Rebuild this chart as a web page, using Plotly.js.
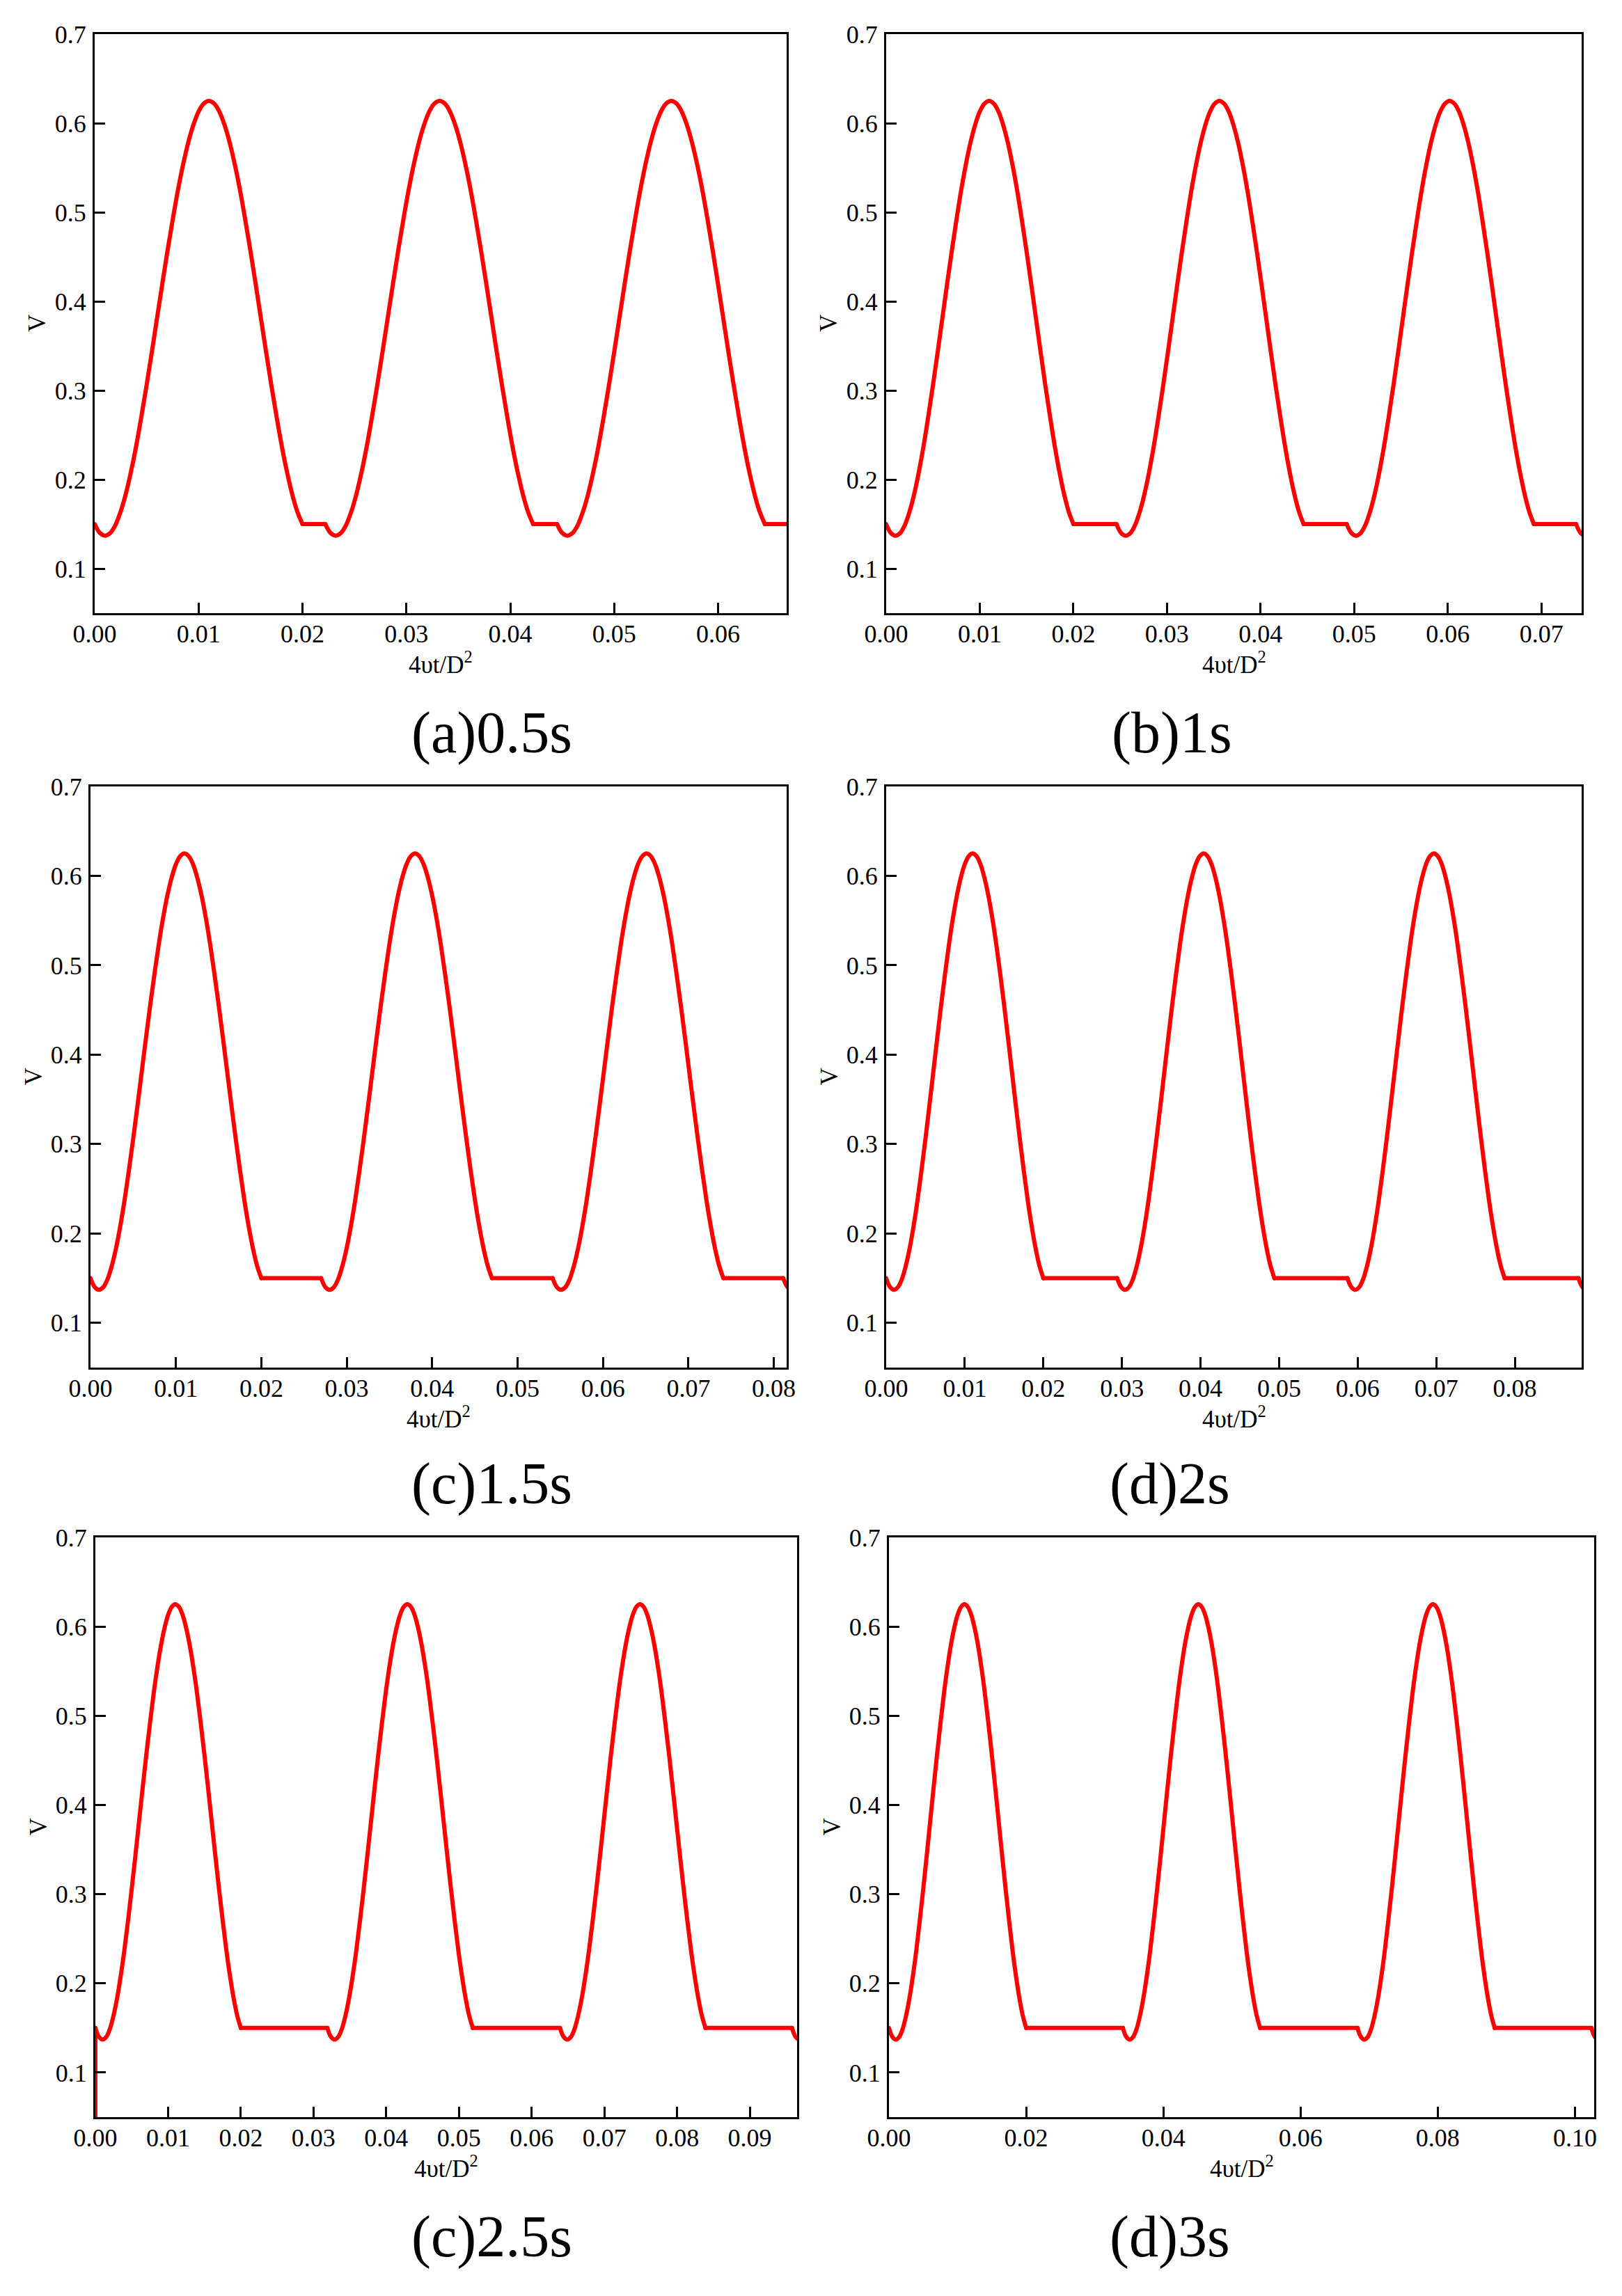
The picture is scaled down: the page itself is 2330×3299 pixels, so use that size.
<!DOCTYPE html>
<html>
<head>
<meta charset="utf-8">
<script src="https://cdn.plot.ly/plotly-3.0.1.min.js"></script>
<style>
html,body{margin:0;padding:0;background:#ffffff;}
.scatterlayer path.js-line{stroke-linecap:round;stroke-linejoin:round;}
</style>
</head>
<body>
<div id="chart" style="width:2330px;height:3299px;"></div>
<script>
// ---- data ----
// shape of one pulse (offset from the start of a cycle, V)
const pulseOffset = [0.0000,0.0005,0.0010,0.0015,0.0020,0.0025,0.0030,0.0035,0.0040,0.0045,
                     0.0050,0.0055,0.0060,0.0065,0.0070,0.0075,0.0080,0.0085,0.0090,0.0095,
                     0.0100,0.0105,0.0110,0.0115,0.0120,0.0125,0.0130,0.0135,0.0140,0.0145,
                     0.0150,0.0155,0.0160,0.0165,0.0170,0.0175,0.0180,0.0185,0.0190,0.0195,0.0200];
const pulseV = [0.150,0.140,0.137,0.140,0.149,0.164,0.184,0.209,0.238,0.271,
                0.306,0.343,0.381,0.419,0.456,0.491,0.524,0.553,0.578,0.598,
                0.613,0.622,0.625,0.622,0.613,0.598,0.578,0.553,0.524,0.491,
                0.456,0.419,0.381,0.343,0.306,0.271,0.238,0.209,0.184,0.164,0.150];
// level of the flat part between two pulses
const plateauV = 0.150;
// start of each cycle in every panel
const cycleStartsA = [0, 0.0222, 0.0445, 0.0667];
const cycleStartsB = [0, 0.0246, 0.0492, 0.0737];
const cycleStartsC = [0, 0.0270, 0.0541, 0.0811];
const cycleStartsD = [0, 0.0294, 0.0587, 0.0881];
const cycleStartsE = [0, 0.0319, 0.0639, 0.0958];
const cycleStartsF = [0, 0.0341, 0.0683, 0.1024];
// panel (c)2.5s starts with a drop from below the axis at x = 0
const leadInX_E = [0, 0];
const leadInV_E = [0.0, 0.150];
// x axis ends and tick steps
const xMax = [0.0666, 0.0743, 0.0815, 0.0885, 0.0965, 0.1028];
const xTickStep = [0.01, 0.01, 0.01, 0.01, 0.01, 0.02];
const yTickVals = [0.1, 0.2, 0.3, 0.4, 0.5, 0.6, 0.7];
const yTickText = ['0.1', '0.2', '0.3', '0.4', '0.5', '0.6', '0.7'];
const panelLabels = ['(a)0.5s', '(b)1s', '(c)1.5s', '(d)2s', '(c)2.5s', '(d)3s'];
const xTitle = '4\u03c5t/D<sup>2</sup>';
const yTitle = 'V';

// ---- build series: smooth pulses, straight flat parts (null = break) ----
function buildSeries(starts, preX, preV) {
  const xs = [], vs = [];
  if (preX) { preX.forEach((x, k) => { xs.push(x); vs.push(preV[k]); }); xs.push(null); vs.push(null); }
  starts.forEach((s, c) => {
    pulseOffset.forEach((o, k) => { xs.push(+(s + o).toFixed(5)); vs.push(pulseV[k]); });
    xs.push(null); vs.push(null);
    if (c + 1 < starts.length) {
      const endX = +(s + pulseOffset[pulseOffset.length - 1]).toFixed(5);
      xs.push(endX, starts[c + 1], null);
      vs.push(plateauV, plateauV, null);
    }
  });
  return {x: xs, y: vs};
}
const series = [
  buildSeries(cycleStartsA),
  buildSeries(cycleStartsB),
  buildSeries(cycleStartsC),
  buildSeries(cycleStartsD),
  buildSeries(cycleStartsE, leadInX_E, leadInV_E),
  buildSeries(cycleStartsF)
];

// ---- layout (pixel boxes of each plot area) ----
const W = 2330, H = 3299;
const boxes = [
  {l: 136,  r: 1130, t: 49,   b: 881},
  {l: 1273, r: 2272, t: 49,   b: 881},
  {l: 130,  r: 1130, t: 1130, b: 1965},
  {l: 1273, r: 2272, t: 1130, b: 1965},
  {l: 137,  r: 1145, t: 2209, b: 3042},
  {l: 1277, r: 2290, t: 2209, b: 3042}
];
const captionPos = [
  {x: 706, y: 1053}, {x: 1683, y: 1053},
  {x: 706, y: 2132}, {x: 1680, y: 2132},
  {x: 706, y: 3214}, {x: 1680, y: 3214}
];
const FONT = 'Liberation Serif, Times New Roman, serif';

const traces = [];
const layout = {
  width: W, height: H,
  margin: {l: 0, r: 0, t: 0, b: 0},
  paper_bgcolor: '#ffffff', plot_bgcolor: '#ffffff',
  showlegend: false,
  font: {family: FONT, color: '#000000'},
  annotations: []
};

series.forEach((s, i) => {
  const n = i === 0 ? '' : String(i + 1);
  traces.push({
    type: 'scatter', mode: 'lines',
    x: s.x, y: s.y,
    xaxis: 'x' + n, yaxis: 'y' + n,
    connectgaps: false,
    line: {color: '#ff0000', width: 6, shape: 'spline', smoothing: 1},
    hoverinfo: 'skip'
  });
  const bx = boxes[i];
  const axCommon = {
    showline: true, linecolor: '#000000', linewidth: 3, mirror: true,
    ticks: 'inside', ticklen: 15, tickwidth: 3, tickcolor: '#000000',
    showgrid: false, zeroline: false,
    tickfont: {family: FONT, size: 36, color: '#000000'}
  };
  layout['xaxis' + n] = Object.assign({}, axCommon, {
    domain: [bx.l / W, bx.r / W],
    anchor: 'y' + n,
    range: [0, xMax[i]],
    tickmode: 'linear', tick0: 0, dtick: xTickStep[i], tickformat: '.2f',
    ticklabelstandoff: -4
  });
  layout['yaxis' + n] = Object.assign({}, axCommon, {
    domain: [1 - bx.b / H, 1 - bx.t / H],
    anchor: 'x' + n,
    range: [0.05, 0.7],
    tickmode: 'array', tickvals: yTickVals, ticktext: yTickText,
    ticklabelstandoff: 2
  });
  const ph = bx.b - bx.t, pw = bx.r - bx.l;
  layout.annotations.push({
    text: xTitle, showarrow: false,
    xref: 'x' + n + ' domain', yref: 'y' + n + ' domain',
    x: 0.5, y: -71 / ph, xanchor: 'center', yanchor: 'middle',
    font: {family: FONT, size: 35, color: '#000000'}
  });
  layout.annotations.push({
    text: yTitle, showarrow: false, textangle: -90,
    xref: 'x' + n + ' domain', yref: 'y' + n + ' domain',
    x: -82 / pw, y: 0.5, xanchor: 'center', yanchor: 'middle',
    font: {family: FONT, size: 35, color: '#000000'}
  });
  layout.annotations.push({
    text: panelLabels[i], showarrow: false,
    xref: 'paper', yref: 'paper',
    x: captionPos[i].x / W, y: 1 - captionPos[i].y / H,
    xanchor: 'center', yanchor: 'middle',
    font: {family: FONT, size: 84, color: '#000000'}
  });
});

Plotly.newPlot('chart', traces, layout, {displayModeBar: false, staticPlot: true});
</script>
</body>
</html>
